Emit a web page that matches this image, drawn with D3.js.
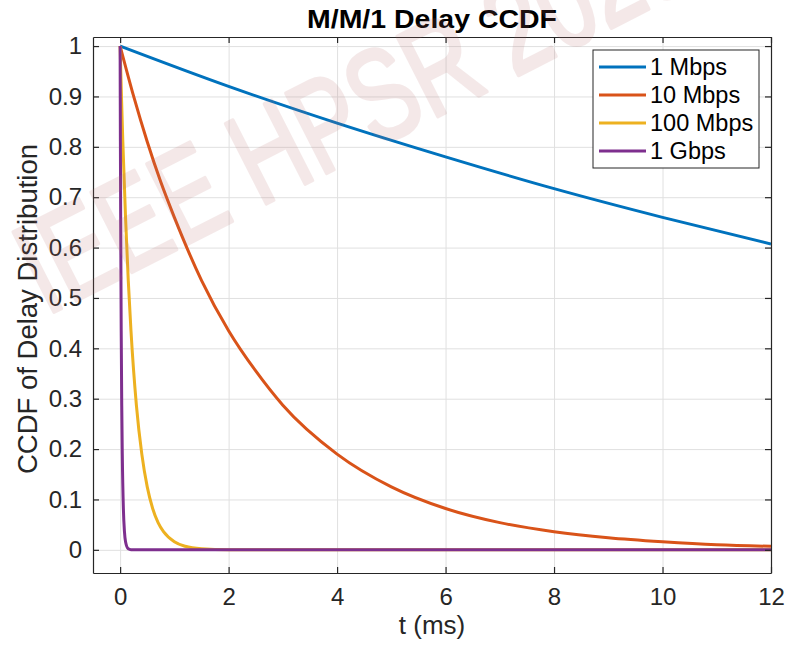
<!DOCTYPE html>
<html>
<head>
<meta charset="utf-8">
<script src="https://cdn.jsdelivr.net/npm/d3@7"></script>
<style>
  body { margin: 0; background: #fff; }
  svg { font-family: "Liberation Sans", Arial, Helvetica, sans-serif; }
</style>
</head>
<body>
<div id="chart"></div>
<script>
//series names and colours (matlab default order)
var seriesNames = ["1 Mbps", "10 Mbps", "100 Mbps", "1 Gbps"];
var seriesColors = ["#0072BD", "#D95319", "#EDB120", "#7E2F8E"];

//values, t in ms
var t1M = [0, 2, 4, 6, 8, 10, 12];
var ccdf1M = [1, 0.92, 0.847, 0.78, 0.717, 0.66, 0.607];

var t10M = [0, 0.25, 0.5, 0.75, 1, 1.5, 2, 2.5, 3, 4, 5, 6, 7, 8, 9, 10, 11, 12];
var ccdf10M = [1, 0.9, 0.81, 0.73, 0.66, 0.535, 0.435, 0.355, 0.287, 0.19, 0.125, 0.082, 0.054, 0.036, 0.024, 0.016, 0.01, 0.007];

var t100M = [0, 0.025, 0.05, 0.1, 0.15, 0.2, 0.3, 0.4, 0.5, 0.6, 0.7, 0.8, 1, 1.2, 1.5, 2, 12];
var ccdf100M = [1, 0.9, 0.81, 0.66, 0.535, 0.435, 0.287, 0.19, 0.125, 0.082, 0.054, 0.036, 0.016, 0.007, 0.002, 0.0002, 0];

var t1G = [0, 0.0025, 0.005, 0.01, 0.02, 0.03, 0.04, 0.06, 0.08, 0.1, 0.15, 0.2, 12];
var ccdf1G = [1, 0.9, 0.81, 0.66, 0.435, 0.287, 0.19, 0.082, 0.036, 0.016, 0.002, 0.0002, 0];

//tick values
var xTicks = [0, 2, 4, 6, 8, 10, 12];
var yTicks = [0, 0.1, 0.2, 0.3, 0.4, 0.5, 0.6, 0.7, 0.8, 0.9, 1];

function init() {
  var w = 796;
  var h = 646;
  var left = 93, right = 771, top = 37, bottom = 573;
  var textColor = "#262626";

  var svg = d3
    .select("#chart")
    .append("svg")
    .attr("width", w)
    .attr("height", h);

  //scales
  var xScale = d3.scaleLinear().domain([-0.5, 12]).range([left, right]);
  var yScale = d3.scaleLinear().domain([-0.046, 1.018]).range([bottom, top]);

  //white axes background
  svg
    .append("rect")
    .attr("x", left)
    .attr("y", top)
    .attr("width", right - left)
    .attr("height", bottom - top)
    .attr("fill", "#fff");

  //grid lines
  var xGrid = svg
    .append("g")
    .attr("transform", "translate(0," + bottom + ")")
    .call(d3.axisBottom(xScale).tickValues(xTicks).tickSize(-(bottom - top)).tickFormat(""));
  var yGrid = svg
    .append("g")
    .attr("transform", "translate(" + left + ",0)")
    .call(d3.axisLeft(yScale).tickValues(yTicks).tickSize(-(right - left)).tickFormat(""));
  [xGrid, yGrid].forEach(function (g) {
    g.select(".domain").remove();
    g.selectAll("line").attr("stroke", "#e0e0e0").attr("stroke-width", 1);
  });

  //clip for the lines
  svg
    .append("clipPath")
    .attr("id", "plotClip")
    .append("rect")
    .attr("x", left)
    .attr("y", top)
    .attr("width", right - left)
    .attr("height", bottom - top);

  //build series from the arrays
  var allT = [t1M, t10M, t100M, t1G];
  var allV = [ccdf1M, ccdf10M, ccdf100M, ccdf1G];
  var series = seriesNames.map(function (name, i) {
    return {
      name: name,
      color: seriesColors[i],
      points: allT[i].map(function (t, j) {
        return { t: t, v: allV[i][j] };
      }),
    };
  });

  var line = d3
    .line()
    .x(function (d) { return xScale(d.t); })
    .y(function (d) { return yScale(d.v); })
    .curve(d3.curveMonotoneX);

  svg
    .append("g")
    .attr("clip-path", "url(#plotClip)")
    .selectAll("path")
    .data(series)
    .enter()
    .append("path")
    .attr("d", function (d) { return line(d.points); })
    .attr("fill", "none")
    .attr("stroke", function (d) { return d.color; })
    .attr("stroke-width", 3)
    .attr("stroke-linejoin", "round");

  //axes with inward ticks on all four sides
  var tickLen = 6;
  var xAxis = svg
    .append("g")
    .attr("transform", "translate(0," + bottom + ")")
    .call(d3.axisBottom(xScale).tickValues(xTicks).tickSizeInner(-tickLen).tickSizeOuter(0).tickPadding(15));
  var yAxis = svg
    .append("g")
    .attr("transform", "translate(" + left + ",0)")
    .call(d3.axisLeft(yScale).tickValues(yTicks).tickSizeInner(-tickLen).tickSizeOuter(0).tickPadding(11)
      .tickFormat(function (d) { return d3.format("~g")(d); }));
  var xTop = svg
    .append("g")
    .attr("transform", "translate(0," + top + ")")
    .call(d3.axisTop(xScale).tickValues(xTicks).tickSizeInner(-tickLen).tickSizeOuter(0).tickFormat(""));
  var yRight = svg
    .append("g")
    .attr("transform", "translate(" + right + ",0)")
    .call(d3.axisRight(yScale).tickValues(yTicks).tickSizeInner(-tickLen).tickSizeOuter(0).tickFormat(""));

  [xAxis, yAxis, xTop, yRight].forEach(function (g) {
    g.select(".domain").attr("stroke", textColor).attr("stroke-width", 1.2);
    g.selectAll(".tick line").attr("stroke", textColor).attr("stroke-width", 1.2);
    g.selectAll("text").attr("fill", textColor).style("font-size", "24px").attr("font-family", null);
  });

  //title
  svg
    .append("text")
    .attr("x", (left + right) / 2)
    .attr("y", 27.5)
    .attr("text-anchor", "middle")
    .attr("fill", "#000")
    .attr("textLength", 250)
    .attr("lengthAdjust", "spacingAndGlyphs")
    .style("font-size", "25px")
    .style("font-weight", "bold")
    .text("M/M/1 Delay CCDF");

  //x axis title
  svg
    .append("text")
    .attr("x", (left + right) / 2)
    .attr("y", 634)
    .attr("text-anchor", "middle")
    .attr("fill", textColor)
    .style("font-size", "26px")
    .text("t (ms)");

  //y axis title
  svg
    .append("text")
    .attr("transform", "rotate(-90)")
    .attr("x", -(top + bottom) / 2 - 4)
    .attr("y", 37)
    .attr("text-anchor", "middle")
    .attr("fill", textColor)
    .style("font-size", "27.5px")
    .text("CCDF of Delay Distribution");

  //legend
  var legend = svg.append("g").attr("transform", "translate(593,50)");
  legend
    .append("rect")
    .attr("width", 166)
    .attr("height", 118)
    .attr("fill", "#fff")
    .attr("stroke", textColor)
    .attr("stroke-width", 1);
  legend
    .selectAll(".legend-line")
    .data(series)
    .enter()
    .append("line")
    .attr("x1", 6)
    .attr("x2", 53)
    .attr("y1", function (d, i) { return 17 + i * 28; })
    .attr("y2", function (d, i) { return 17 + i * 28; })
    .attr("stroke", function (d) { return d.color; })
    .attr("stroke-width", 3);
  legend
    .selectAll(".legend-label")
    .data(series)
    .enter()
    .append("text")
    .attr("x", 57)
    .attr("y", function (d, i) { return 17 + i * 28; })
    .attr("dy", "0.36em")
    .attr("fill", "#000")
    .style("font-size", "23.5px")
    .text(function (d) { return d.name; });

  //watermark over the figure, group opacity so fill and stroke blend as one
  svg
    .append("g")
    .attr("opacity", 0.15)
    .append("text")
    .attr("transform", "translate(46,316) rotate(-27) scale(0.72,1)")
    .attr("fill", "rgb(185,110,110)")
    .attr("stroke", "rgb(185,110,110)")
    .attr("stroke-width", 4)
    .attr("stroke-linejoin", "round")
    .style("font-size", "130px")
    .text("IEEE HPSR 2023");
}

window.onload = init;
</script>
</body>
</html>
